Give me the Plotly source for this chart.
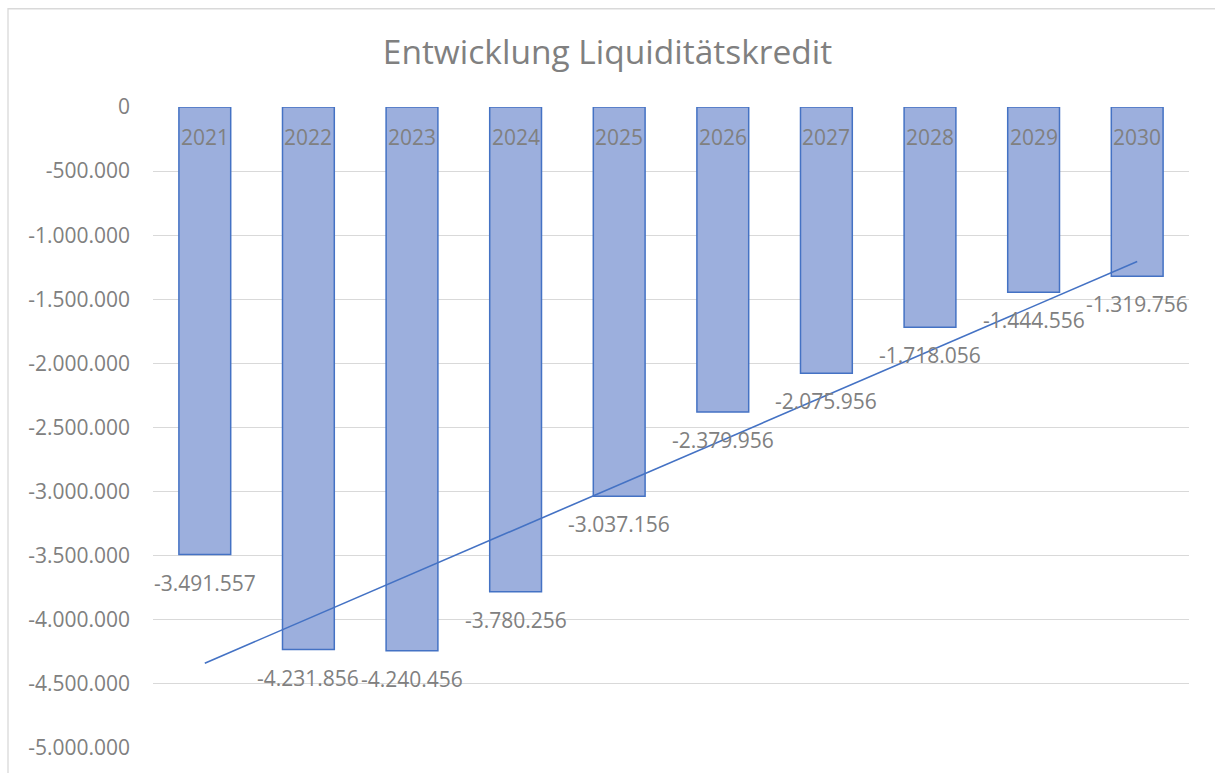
import numpy as np
import plotly.graph_objects as go

categories = ["2021", "2022", "2023", "2024", "2025", "2026", "2027", "2028", "2029", "2030"]
values = [-3491557, -4231856, -4240456, -3780256, -3037156, -2379956, -2075956, -1718056, -1444556, -1319756]
y_ticks = [0, -500000, -1000000, -1500000, -2000000, -2500000, -3000000, -3500000, -4000000, -4500000, -5000000]

def de(n):
    return f"{n:,.0f}".replace(",", ".")

xi = np.arange(1, len(values) + 1)
slope, intercept = np.polyfit(xi, values, 1)
trend = slope * xi + intercept

FONT = "Open Sans"
GRAY = "#808080"

fig = go.Figure()
fig.add_trace(go.Bar(
    x=categories, y=values,
    marker=dict(color="#9cafdd", line=dict(color="#4472c4", width=1.5)),
    width=0.5, hoverinfo="skip",
))
fig.add_trace(go.Scatter(
    x=categories, y=trend, mode="lines",
    line=dict(color="#4472c4", width=1.6), hoverinfo="skip",
))

ann = []
for i, (c, v) in enumerate(zip(categories, values)):
    ann.append(dict(x=i, y=0, xref="x", yref="y", text=c, showarrow=False,
                    yanchor="top", yshift=-14,
                    font=dict(family=FONT, size=21, color=GRAY)))
    ann.append(dict(x=i, y=v, xref="x", yref="y", text=de(v), showarrow=False,
                    yanchor="top", yshift=-12,
                    font=dict(family=FONT, size=21, color=GRAY)))

fig.update_layout(
    width=1215, height=773,
    margin=dict(l=153, r=26, t=107, b=20),
    paper_bgcolor="white", plot_bgcolor="white",
    showlegend=False,
    title=dict(text="Entwicklung Liquiditätskredit", x=0.5, xanchor="center",
               y=1 - 52 / 773, yanchor="middle", yref="container",
               font=dict(family=FONT, size=33.5, color=GRAY)),
    xaxis=dict(type="category", showticklabels=False, showgrid=False, zeroline=False,
               showline=False, range=[-0.5, 9.5]),
    yaxis=dict(range=[-5000000, 0], tickvals=y_ticks, ticktext=[de(t) for t in y_ticks],
               showgrid=True, gridcolor="#d9d9d9", gridwidth=1.3, zeroline=False,
               showline=False, ticks="", ticklabelstandoff=22,
               tickfont=dict(family=FONT, size=21, color=GRAY)),
    annotations=ann,
    shapes=[dict(type="rect", xref="paper", yref="paper",
                 x0=(8 - 153) / (1215 - 153 - 26), x1=1.2,
                 y0=-0.2, y1=1 + (107 - 8) / (773 - 107 - 20),
                 line=dict(color="#d9d9d9", width=1.3), layer="below")],
)

fig.write_html("out.html", config={"displayModeBar": False},
               post_script="document.body.style.margin='0';document.body.style.overflow='hidden';")
